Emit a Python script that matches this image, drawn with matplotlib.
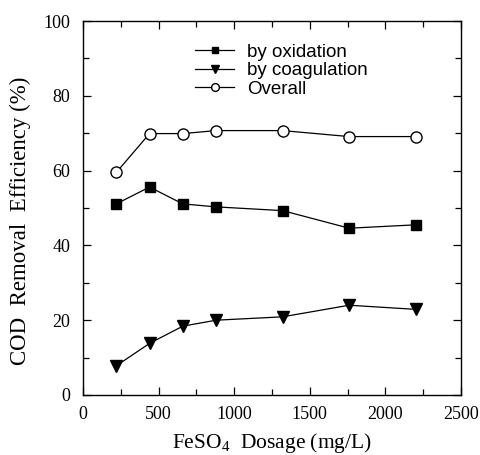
import numpy as np
import matplotlib.pyplot as plt
from matplotlib.ticker import MultipleLocator

# FeSO4 dosage (mg/L)
dosage = [220, 440, 660, 880, 1320, 1760, 2200]
# COD removal efficiency (%)
by_oxidation = [51.1, 55.6, 51.1, 50.3, 49.3, 44.6, 45.5]
by_coagulation = [7.8, 13.8, 18.4, 20.0, 20.9, 24.0, 22.9]
overall = [59.5, 69.9, 69.9, 70.7, 70.7, 69.1, 69.1]

fig = plt.figure(figsize=(4.81, 4.55), dpi=100)
ax = fig.add_axes([0.1726, 0.1319, 0.7858, 0.8219])

ax.plot(dosage, by_oxidation, 'k-s', lw=0.9, ms=7, label='by oxidation')
ax.plot(dosage, by_coagulation, 'k-v', lw=0.9, ms=8, label='by coagulation')
ax.plot(dosage, overall, 'k-o', lw=0.9, ms=8, mfc='white', label='Overall')

ax.set_xlim(0, 2500)
ax.set_ylim(0, 100)
ax.xaxis.set_major_locator(MultipleLocator(500))
ax.xaxis.set_minor_locator(MultipleLocator(250))
ax.yaxis.set_major_locator(MultipleLocator(20))
ax.yaxis.set_minor_locator(MultipleLocator(10))
ax.tick_params(which='both', direction='in', top=True, right=True, width=0.9)
ax.tick_params(which='major', length=6)
ax.tick_params(which='minor', length=4)
ax.tick_params(axis='x', which='major', pad=8)
ax.tick_params(axis='y', which='major', pad=9)
for lbl in ax.get_xticklabels() + ax.get_yticklabels():
    lbl.set_fontfamily('Liberation Serif')
    lbl.set_fontsize(13)
for s in ax.spines.values():
    s.set_linewidth(1.0)

ax.set_xlabel('FeSO$_\\mathregular{4}$  Dosage (mg/L)', family='Liberation Serif',
              fontsize=15.5, labelpad=6)
ax.set_ylabel('COD  Removal  Efficiency (%)', family='Liberation Serif',
              fontsize=16.5)
ax.yaxis.set_label_coords(-0.138, 0.465)

leg = ax.legend(loc='upper left', bbox_to_anchor=(0.296, 0.94), frameon=False,
                prop={'family': 'Liberation Sans', 'size': 13.5},
                handlelength=2.1, labelspacing=0.08, handletextpad=0.7,
                borderpad=0, borderaxespad=0, markerscale=0.7)

fig.savefig('out.png', dpi=100)
